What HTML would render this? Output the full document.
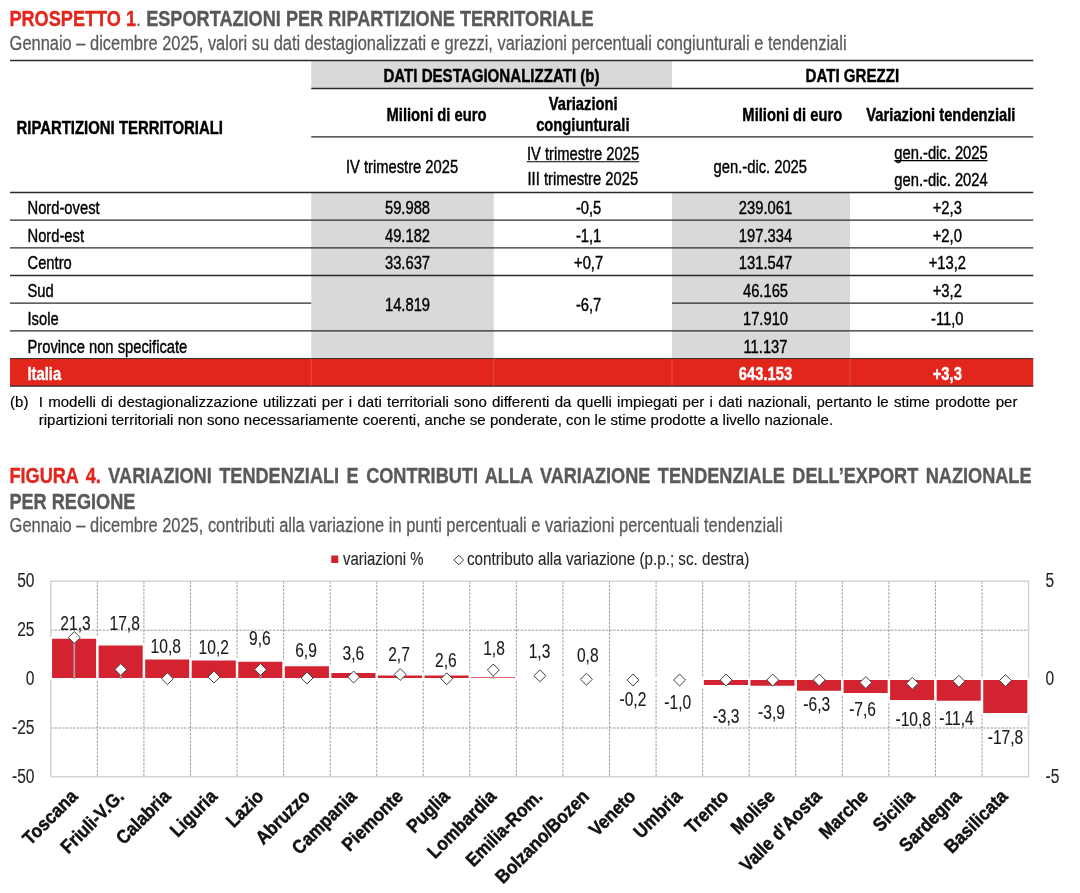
<!DOCTYPE html>
<html lang="it">
<head>
<meta charset="utf-8">
<title>Prospetto 1 - Esportazioni per ripartizione territoriale</title>
<style>
html,body{margin:0;padding:0;background:#fff;}
body{width:1080px;height:893px;overflow:hidden;}
svg{display:block;font-family:"Liberation Sans", sans-serif;will-change:transform;}
text{white-space:pre;}
</style>
</head>
<body>
<svg role="img" aria-label="Prospetto 1 e Figura 4" width="1080" height="893" viewBox="0 0 1080 893">
<rect width="1080" height="893" fill="#fff"/>
<g id="prospetto-title">
<text transform="translate(9.4 26.4) scale(0.8325 1)" font-size="21.8" font-weight="700" fill="#595959" stroke="#595959" stroke-width="0.35"><tspan fill="#E2261B" stroke="#E2261B">PROSPETTO 1</tspan><tspan font-weight="400" stroke="none">.</tspan> ESPORTAZIONI PER RIPARTIZIONE TERRITORIALE</text>
<text transform="translate(9.60 49.90) scale(0.826 1)" font-size="19.9" font-weight="400" text-anchor="start" fill="#595959" stroke="#595959" stroke-width="0.25">Gennaio – dicembre 2025, valori su dati destagionalizzati e grezzi, variazioni percentuali congiunturali e tendenziali</text>
</g>
<g id="prospetto-table">
<rect x="311.25" y="61.00" width="360.75" height="27.50" fill="#D9D9D9"/>
<rect x="311.25" y="193.00" width="182.50" height="165.46" fill="#D9D9D9"/>
<rect x="672.00" y="193.00" width="178.00" height="165.46" fill="#D9D9D9"/>
<rect x="10.00" y="358.46" width="1023.25" height="27.66" fill="#E2261B"/>
<line x1="10.00" y1="60.50" x2="1033.25" y2="60.50" stroke="#2b2b2b" stroke-width="1.35"/>
<line x1="311.25" y1="88.50" x2="1033.25" y2="88.50" stroke="#2b2b2b" stroke-width="1.35"/>
<line x1="311.25" y1="136.90" x2="1033.25" y2="136.90" stroke="#2b2b2b" stroke-width="1.35"/>
<line x1="10.00" y1="192.50" x2="1033.25" y2="192.50" stroke="#2b2b2b" stroke-width="1.35"/>
<line x1="10.00" y1="220.16" x2="1033.25" y2="220.16" stroke="#2b2b2b" stroke-width="1.35"/>
<line x1="10.00" y1="247.82" x2="1033.25" y2="247.82" stroke="#2b2b2b" stroke-width="1.35"/>
<line x1="10.00" y1="275.48" x2="1033.25" y2="275.48" stroke="#2b2b2b" stroke-width="1.35"/>
<line x1="10.00" y1="303.14" x2="311.25" y2="303.14" stroke="#2b2b2b" stroke-width="1.35"/>
<line x1="672.00" y1="303.14" x2="1033.25" y2="303.14" stroke="#2b2b2b" stroke-width="1.35"/>
<line x1="10.00" y1="330.80" x2="1033.25" y2="330.80" stroke="#2b2b2b" stroke-width="1.35"/>
<line x1="10.00" y1="386.12" x2="1033.25" y2="386.12" stroke="#2b2b2b" stroke-width="1.35"/>
<line x1="10.00" y1="358.56" x2="1033.25" y2="358.56" stroke="#3a3030" stroke-width="1"/>
<line x1="311.25" y1="358.96" x2="311.25" y2="385.62" stroke="#EC5A4F" stroke-width="0.8"/>
<line x1="493.75" y1="358.96" x2="493.75" y2="385.62" stroke="#EC5A4F" stroke-width="0.8"/>
<line x1="672.00" y1="358.96" x2="672.00" y2="385.62" stroke="#EC5A4F" stroke-width="0.8"/>
<line x1="850.00" y1="358.96" x2="850.00" y2="385.62" stroke="#EC5A4F" stroke-width="0.8"/>
<text transform="translate(16.50 133.75) scale(0.852 1)" font-size="17.5" font-weight="700" text-anchor="start" fill="#000" stroke="#000" stroke-width="0.4">RIPARTIZIONI TERRITORIALI</text>
<text transform="translate(491.50 82.10) scale(0.863 1)" font-size="17.5" font-weight="700" text-anchor="middle" fill="#000" stroke="#000" stroke-width="0.4">DATI DESTAGIONALIZZATI (b)</text>
<text transform="translate(852.30 82.10) scale(0.863 1)" font-size="17.5" font-weight="700" text-anchor="middle" fill="#000" stroke="#000" stroke-width="0.4">DATI GREZZI</text>
<text transform="translate(436.50 120.80) scale(0.843 1)" font-size="17.5" font-weight="700" text-anchor="middle" fill="#000" stroke="#000" stroke-width="0.4">Milioni di euro</text>
<text transform="translate(583.20 110.00) scale(0.843 1)" font-size="17.5" font-weight="700" text-anchor="middle" fill="#000" stroke="#000" stroke-width="0.4">Variazioni</text>
<text transform="translate(582.80 130.80) scale(0.843 1)" font-size="17.5" font-weight="700" text-anchor="middle" fill="#000" stroke="#000" stroke-width="0.4">congiunturali</text>
<text transform="translate(792.30 120.80) scale(0.843 1)" font-size="17.5" font-weight="700" text-anchor="middle" fill="#000" stroke="#000" stroke-width="0.4">Milioni di euro</text>
<text transform="translate(940.90 120.80) scale(0.843 1)" font-size="17.5" font-weight="700" text-anchor="middle" fill="#000" stroke="#000" stroke-width="0.4">Variazioni tendenziali</text>
<text transform="translate(402.00 172.50) scale(0.843 1)" font-size="17.5" font-weight="400" text-anchor="middle" fill="#000" stroke="#000" stroke-width="0.4">IV trimestre 2025</text>
<text transform="translate(583.00 160.00) scale(0.843 1)" font-size="17.5" font-weight="400" text-anchor="middle" fill="#000" stroke="#000" stroke-width="0.4">IV trimestre 2025</text>
<line x1="526.75" y1="161.80" x2="639.25" y2="161.80" stroke="#000" stroke-width="1.1"/>
<text transform="translate(582.80 184.60) scale(0.843 1)" font-size="17.5" font-weight="400" text-anchor="middle" fill="#000" stroke="#000" stroke-width="0.4">III trimestre 2025</text>
<text transform="translate(760.30 172.50) scale(0.843 1)" font-size="17.5" font-weight="400" text-anchor="middle" fill="#000" stroke="#000" stroke-width="0.4">gen.-dic. 2025</text>
<text transform="translate(941.00 158.60) scale(0.843 1)" font-size="17.5" font-weight="400" text-anchor="middle" fill="#000" stroke="#000" stroke-width="0.4">gen.-dic. 2025</text>
<line x1="894.25" y1="160.60" x2="987.50" y2="160.60" stroke="#000" stroke-width="1.1"/>
<text transform="translate(941.00 185.60) scale(0.843 1)" font-size="17.5" font-weight="400" text-anchor="middle" fill="#000" stroke="#000" stroke-width="0.4">gen.-dic. 2024</text>
<text transform="translate(27.50 213.85) scale(0.843 1)" font-size="17.5" font-weight="400" text-anchor="start" fill="#000" stroke="#000" stroke-width="0.4">Nord-ovest</text>
<text transform="translate(407.50 213.85) scale(0.843 1)" font-size="17.5" font-weight="400" text-anchor="middle" fill="#000" stroke="#000" stroke-width="0.4">59.988</text>
<text transform="translate(588.60 213.85) scale(0.843 1)" font-size="17.5" font-weight="400" text-anchor="middle" fill="#000" stroke="#000" stroke-width="0.4">-0,5</text>
<text transform="translate(765.50 213.85) scale(0.843 1)" font-size="17.5" font-weight="400" text-anchor="middle" fill="#000" stroke="#000" stroke-width="0.4">239.061</text>
<text transform="translate(947.30 213.85) scale(0.843 1)" font-size="17.5" font-weight="400" text-anchor="middle" fill="#000" stroke="#000" stroke-width="0.4">+2,3</text>
<text transform="translate(27.50 241.60) scale(0.843 1)" font-size="17.5" font-weight="400" text-anchor="start" fill="#000" stroke="#000" stroke-width="0.4">Nord-est</text>
<text transform="translate(407.50 241.60) scale(0.843 1)" font-size="17.5" font-weight="400" text-anchor="middle" fill="#000" stroke="#000" stroke-width="0.4">49.182</text>
<text transform="translate(588.60 241.60) scale(0.843 1)" font-size="17.5" font-weight="400" text-anchor="middle" fill="#000" stroke="#000" stroke-width="0.4">-1,1</text>
<text transform="translate(765.50 241.60) scale(0.843 1)" font-size="17.5" font-weight="400" text-anchor="middle" fill="#000" stroke="#000" stroke-width="0.4">197.334</text>
<text transform="translate(947.30 241.60) scale(0.843 1)" font-size="17.5" font-weight="400" text-anchor="middle" fill="#000" stroke="#000" stroke-width="0.4">+2,0</text>
<text transform="translate(27.50 269.35) scale(0.843 1)" font-size="17.5" font-weight="400" text-anchor="start" fill="#000" stroke="#000" stroke-width="0.4">Centro</text>
<text transform="translate(407.50 269.35) scale(0.843 1)" font-size="17.5" font-weight="400" text-anchor="middle" fill="#000" stroke="#000" stroke-width="0.4">33.637</text>
<text transform="translate(588.60 269.35) scale(0.843 1)" font-size="17.5" font-weight="400" text-anchor="middle" fill="#000" stroke="#000" stroke-width="0.4">+0,7</text>
<text transform="translate(765.50 269.35) scale(0.843 1)" font-size="17.5" font-weight="400" text-anchor="middle" fill="#000" stroke="#000" stroke-width="0.4">131.547</text>
<text transform="translate(947.30 269.35) scale(0.843 1)" font-size="17.5" font-weight="400" text-anchor="middle" fill="#000" stroke="#000" stroke-width="0.4">+13,2</text>
<text transform="translate(27.50 297.10) scale(0.843 1)" font-size="17.5" font-weight="400" text-anchor="start" fill="#000" stroke="#000" stroke-width="0.4">Sud</text>
<text transform="translate(765.50 297.10) scale(0.843 1)" font-size="17.5" font-weight="400" text-anchor="middle" fill="#000" stroke="#000" stroke-width="0.4">46.165</text>
<text transform="translate(947.30 297.10) scale(0.843 1)" font-size="17.5" font-weight="400" text-anchor="middle" fill="#000" stroke="#000" stroke-width="0.4">+3,2</text>
<text transform="translate(27.50 324.85) scale(0.843 1)" font-size="17.5" font-weight="400" text-anchor="start" fill="#000" stroke="#000" stroke-width="0.4">Isole</text>
<text transform="translate(765.50 324.85) scale(0.843 1)" font-size="17.5" font-weight="400" text-anchor="middle" fill="#000" stroke="#000" stroke-width="0.4">17.910</text>
<text transform="translate(947.30 324.85) scale(0.843 1)" font-size="17.5" font-weight="400" text-anchor="middle" fill="#000" stroke="#000" stroke-width="0.4">-11,0</text>
<text transform="translate(27.50 352.60) scale(0.843 1)" font-size="17.5" font-weight="400" text-anchor="start" fill="#000" stroke="#000" stroke-width="0.4">Province non specificate</text>
<text transform="translate(765.50 352.60) scale(0.843 1)" font-size="17.5" font-weight="400" text-anchor="middle" fill="#000" stroke="#000" stroke-width="0.4">11.137</text>
<text transform="translate(27.50 380.35) scale(0.843 1)" font-size="17.5" font-weight="700" text-anchor="start" fill="#fff" stroke="#fff" stroke-width="0.4">Italia</text>
<text transform="translate(765.50 380.35) scale(0.843 1)" font-size="17.5" font-weight="700" text-anchor="middle" fill="#fff" stroke="#fff" stroke-width="0.4">643.153</text>
<text transform="translate(947.30 380.35) scale(0.843 1)" font-size="17.5" font-weight="700" text-anchor="middle" fill="#fff" stroke="#fff" stroke-width="0.4">+3,3</text>
<text transform="translate(407.50 311.30) scale(0.843 1)" font-size="17.5" font-weight="400" text-anchor="middle" fill="#000" stroke="#000" stroke-width="0.4">14.819</text>
<text transform="translate(588.60 311.30) scale(0.843 1)" font-size="17.5" font-weight="400" text-anchor="middle" fill="#000" stroke="#000" stroke-width="0.4">-6,7</text>
</g>
<g id="footnote">
<text transform="translate(10.00 407.00) scale(1.092 1)" font-size="13.8" font-weight="400" text-anchor="start" fill="#000" stroke="#000" stroke-width="0.15">(b)</text>
<text transform="translate(38.75 407) scale(1.092 1)" font-size="13.8" word-spacing="0.96" stroke="#000" stroke-width="0.15">I modelli di destagionalizzazione utilizzati per i dati territoriali sono differenti da quelli impiegati per i dati nazionali, pertanto le stime prodotte per</text>
<text transform="translate(38.75 424.50) scale(1.092 1)" font-size="13.8" font-weight="400" text-anchor="start" fill="#000" stroke="#000" stroke-width="0.15">ripartizioni territoriali non sono necessariamente coerenti, anche se ponderate, con le stime prodotte a livello nazionale.</text>
</g>
<g id="figura-title">
<text transform="translate(9.4 483.3) scale(0.8325 1)" font-size="21.8" font-weight="700" fill="#595959" stroke="#595959" stroke-width="0.35" word-spacing="2.9"><tspan fill="#E2261B" stroke="#E2261B">FIGURA 4.</tspan> VARIAZIONI TENDENZIALI E CONTRIBUTI ALLA VARIAZIONE TENDENZIALE DELL’EXPORT NAZIONALE</text>
<text transform="translate(9.40 509.00) scale(0.8325 1)" font-size="21.8" font-weight="700" text-anchor="start" fill="#595959" stroke="#595959" stroke-width="0.35">PER REGIONE</text>
<text transform="translate(9.60 532.10) scale(0.826 1)" font-size="19.9" font-weight="400" text-anchor="start" fill="#595959" stroke="#595959" stroke-width="0.25">Gennaio – dicembre 2025, contributi alla variazione in punti percentuali e variazioni percentuali tendenziali</text>
</g>
<g id="chart">
<line x1="97.36" y1="581.25" x2="97.36" y2="776.75" stroke="#808080" stroke-width="0.8" stroke-dasharray="2.4 1.3"/>
<line x1="143.92" y1="581.25" x2="143.92" y2="776.75" stroke="#808080" stroke-width="0.8" stroke-dasharray="2.4 1.3"/>
<line x1="190.48" y1="581.25" x2="190.48" y2="776.75" stroke="#808080" stroke-width="0.8" stroke-dasharray="2.4 1.3"/>
<line x1="237.04" y1="581.25" x2="237.04" y2="776.75" stroke="#808080" stroke-width="0.8" stroke-dasharray="2.4 1.3"/>
<line x1="283.60" y1="581.25" x2="283.60" y2="776.75" stroke="#808080" stroke-width="0.8" stroke-dasharray="2.4 1.3"/>
<line x1="330.16" y1="581.25" x2="330.16" y2="776.75" stroke="#808080" stroke-width="0.8" stroke-dasharray="2.4 1.3"/>
<line x1="376.72" y1="581.25" x2="376.72" y2="776.75" stroke="#808080" stroke-width="0.8" stroke-dasharray="2.4 1.3"/>
<line x1="423.28" y1="581.25" x2="423.28" y2="776.75" stroke="#808080" stroke-width="0.8" stroke-dasharray="2.4 1.3"/>
<line x1="469.84" y1="581.25" x2="469.84" y2="776.75" stroke="#808080" stroke-width="0.8" stroke-dasharray="2.4 1.3"/>
<line x1="516.40" y1="581.25" x2="516.40" y2="776.75" stroke="#808080" stroke-width="0.8" stroke-dasharray="2.4 1.3"/>
<line x1="562.96" y1="581.25" x2="562.96" y2="776.75" stroke="#808080" stroke-width="0.8" stroke-dasharray="2.4 1.3"/>
<line x1="609.52" y1="581.25" x2="609.52" y2="776.75" stroke="#808080" stroke-width="0.8" stroke-dasharray="2.4 1.3"/>
<line x1="656.08" y1="581.25" x2="656.08" y2="776.75" stroke="#808080" stroke-width="0.8" stroke-dasharray="2.4 1.3"/>
<line x1="702.64" y1="581.25" x2="702.64" y2="776.75" stroke="#808080" stroke-width="0.8" stroke-dasharray="2.4 1.3"/>
<line x1="749.20" y1="581.25" x2="749.20" y2="776.75" stroke="#808080" stroke-width="0.8" stroke-dasharray="2.4 1.3"/>
<line x1="795.76" y1="581.25" x2="795.76" y2="776.75" stroke="#808080" stroke-width="0.8" stroke-dasharray="2.4 1.3"/>
<line x1="842.32" y1="581.25" x2="842.32" y2="776.75" stroke="#808080" stroke-width="0.8" stroke-dasharray="2.4 1.3"/>
<line x1="888.88" y1="581.25" x2="888.88" y2="776.75" stroke="#808080" stroke-width="0.8" stroke-dasharray="2.4 1.3"/>
<line x1="935.44" y1="581.25" x2="935.44" y2="776.75" stroke="#808080" stroke-width="0.8" stroke-dasharray="2.4 1.3"/>
<line x1="982.00" y1="581.25" x2="982.00" y2="776.75" stroke="#808080" stroke-width="0.8" stroke-dasharray="2.4 1.3"/>
<line x1="50.80" y1="630.20" x2="1028.56" y2="630.20" stroke="#808080" stroke-width="0.8" stroke-dasharray="2.4 1.3"/>
<line x1="50.80" y1="728.00" x2="1028.56" y2="728.00" stroke="#808080" stroke-width="0.8" stroke-dasharray="2.4 1.3"/>
<rect x="50.8" y="581.25" width="977.76" height="195.5" fill="none" stroke="#d4d4d4" stroke-width="1.5"/>
<rect x="51.03" y="637.75" width="46.1" height="41.25" fill="#D32331" stroke="#fff" stroke-width="2"/>
<rect x="97.59" y="644.50" width="46.1" height="34.50" fill="#D32331" stroke="#fff" stroke-width="2"/>
<rect x="144.15" y="658.50" width="46.1" height="20.50" fill="#D32331" stroke="#fff" stroke-width="2"/>
<rect x="190.71" y="659.50" width="46.1" height="19.50" fill="#D32331" stroke="#fff" stroke-width="2"/>
<rect x="237.27" y="660.75" width="46.1" height="18.25" fill="#D32331" stroke="#fff" stroke-width="2"/>
<rect x="283.83" y="665.25" width="46.1" height="13.75" fill="#D32331" stroke="#fff" stroke-width="2"/>
<rect x="330.39" y="672.00" width="46.1" height="7.00" fill="#D32331" stroke="#fff" stroke-width="2"/>
<rect x="376.95" y="674.50" width="46.1" height="4.50" fill="#D32331" stroke="#fff" stroke-width="2"/>
<rect x="423.51" y="674.50" width="46.1" height="4.50" fill="#D32331" stroke="#fff" stroke-width="2"/>
<rect x="470.07" y="676.20" width="46.1" height="2.70" fill="#D32331" stroke="#fff" stroke-width="2"/>
<rect x="516.38" y="677.60" width="46.60" height="2.80" fill="#fff"/>
<rect x="562.94" y="677.60" width="46.60" height="2.80" fill="#fff"/>
<rect x="609.50" y="677.60" width="46.60" height="2.80" fill="#fff"/>
<rect x="656.06" y="677.60" width="46.60" height="2.80" fill="#fff"/>
<rect x="702.87" y="679.00" width="46.1" height="7.00" fill="#D32331" stroke="#fff" stroke-width="2"/>
<rect x="749.43" y="679.00" width="46.1" height="7.75" fill="#D32331" stroke="#fff" stroke-width="2"/>
<rect x="795.99" y="679.00" width="46.1" height="12.75" fill="#D32331" stroke="#fff" stroke-width="2"/>
<rect x="842.55" y="679.00" width="46.1" height="15.00" fill="#D32331" stroke="#fff" stroke-width="2"/>
<rect x="889.11" y="679.00" width="46.1" height="22.00" fill="#D32331" stroke="#fff" stroke-width="2"/>
<rect x="935.67" y="679.00" width="46.1" height="22.75" fill="#D32331" stroke="#fff" stroke-width="2"/>
<rect x="982.23" y="679.00" width="46.1" height="35.00" fill="#D32331" stroke="#fff" stroke-width="2"/>
<text transform="translate(75.50 630.00) scale(0.8 1)" font-size="19.5" font-weight="400" text-anchor="middle" fill="#1a1a1a" stroke="#1a1a1a" stroke-width="0.12">21,3</text>
<text transform="translate(124.70 630.00) scale(0.8 1)" font-size="19.5" font-weight="400" text-anchor="middle" fill="#1a1a1a" stroke="#1a1a1a" stroke-width="0.12">17,8</text>
<text transform="translate(165.75 652.80) scale(0.8 1)" font-size="19.5" font-weight="400" text-anchor="middle" fill="#1a1a1a" stroke="#1a1a1a" stroke-width="0.12">10,8</text>
<text transform="translate(213.75 653.75) scale(0.8 1)" font-size="19.5" font-weight="400" text-anchor="middle" fill="#1a1a1a" stroke="#1a1a1a" stroke-width="0.12">10,2</text>
<text transform="translate(259.90 645.00) scale(0.8 1)" font-size="19.5" font-weight="400" text-anchor="middle" fill="#1a1a1a" stroke="#1a1a1a" stroke-width="0.12">9,6</text>
<text transform="translate(306.00 656.50) scale(0.8 1)" font-size="19.5" font-weight="400" text-anchor="middle" fill="#1a1a1a" stroke="#1a1a1a" stroke-width="0.12">6,9</text>
<text transform="translate(353.40 660.00) scale(0.8 1)" font-size="19.5" font-weight="400" text-anchor="middle" fill="#1a1a1a" stroke="#1a1a1a" stroke-width="0.12">3,6</text>
<text transform="translate(399.00 661.25) scale(0.8 1)" font-size="19.5" font-weight="400" text-anchor="middle" fill="#1a1a1a" stroke="#1a1a1a" stroke-width="0.12">2,7</text>
<text transform="translate(445.90 666.75) scale(0.8 1)" font-size="19.5" font-weight="400" text-anchor="middle" fill="#1a1a1a" stroke="#1a1a1a" stroke-width="0.12">2,6</text>
<text transform="translate(494.00 655.00) scale(0.8 1)" font-size="19.5" font-weight="400" text-anchor="middle" fill="#1a1a1a" stroke="#1a1a1a" stroke-width="0.12">1,8</text>
<text transform="translate(539.50 657.50) scale(0.8 1)" font-size="19.5" font-weight="400" text-anchor="middle" fill="#1a1a1a" stroke="#1a1a1a" stroke-width="0.12">1,3</text>
<text transform="translate(587.75 662.40) scale(0.8 1)" font-size="19.5" font-weight="400" text-anchor="middle" fill="#1a1a1a" stroke="#1a1a1a" stroke-width="0.12">0,8</text>
<text transform="translate(632.90 705.75) scale(0.8 1)" font-size="19.5" font-weight="400" text-anchor="middle" fill="#1a1a1a" stroke="#1a1a1a" stroke-width="0.12">-0,2</text>
<text transform="translate(677.75 709.25) scale(0.8 1)" font-size="19.5" font-weight="400" text-anchor="middle" fill="#1a1a1a" stroke="#1a1a1a" stroke-width="0.12">-1,0</text>
<text transform="translate(726.10 722.50) scale(0.8 1)" font-size="19.5" font-weight="400" text-anchor="middle" fill="#1a1a1a" stroke="#1a1a1a" stroke-width="0.12">-3,3</text>
<text transform="translate(771.50 719.25) scale(0.8 1)" font-size="19.5" font-weight="400" text-anchor="middle" fill="#1a1a1a" stroke="#1a1a1a" stroke-width="0.12">-3,9</text>
<text transform="translate(816.75 711.00) scale(0.8 1)" font-size="19.5" font-weight="400" text-anchor="middle" fill="#1a1a1a" stroke="#1a1a1a" stroke-width="0.12">-6,3</text>
<text transform="translate(862.60 715.50) scale(0.8 1)" font-size="19.5" font-weight="400" text-anchor="middle" fill="#1a1a1a" stroke="#1a1a1a" stroke-width="0.12">-7,6</text>
<text transform="translate(913.25 725.50) scale(0.8 1)" font-size="19.5" font-weight="400" text-anchor="middle" fill="#1a1a1a" stroke="#1a1a1a" stroke-width="0.12">-10,8</text>
<text transform="translate(956.50 725.00) scale(0.8 1)" font-size="19.5" font-weight="400" text-anchor="middle" fill="#1a1a1a" stroke="#1a1a1a" stroke-width="0.12">-11,4</text>
<text transform="translate(1005.50 743.75) scale(0.8 1)" font-size="19.5" font-weight="400" text-anchor="middle" fill="#1a1a1a" stroke="#1a1a1a" stroke-width="0.12">-17,8</text>
<line x1="74.28" y1="637.50" x2="74.28" y2="679.00" stroke="#a6a6a6" stroke-width="1.7"/>
<path d="M74.28 631.55 L80.23 637.50 L74.28 643.45 L68.33 637.50 Z" fill="#fff" stroke="#404040" stroke-width="1"/>
<text transform="translate(78.70 797.50) rotate(-45) scale(0.905 1)" font-size="19" font-weight="700" text-anchor="end" fill="#111" stroke="#111" stroke-width="0.45">Toscana</text>
<line x1="120.84" y1="669.50" x2="120.84" y2="679.00" stroke="#a6a6a6" stroke-width="1.7"/>
<path d="M120.84 663.55 L126.79 669.50 L120.84 675.45 L114.89 669.50 Z" fill="#fff" stroke="#404040" stroke-width="1"/>
<text transform="translate(125.20 797.50) rotate(-45) scale(0.905 1)" font-size="19" font-weight="700" text-anchor="end" fill="#111" stroke="#111" stroke-width="0.45">Friuli-V.G.</text>
<path d="M167.40 672.80 L173.35 678.75 L167.40 684.70 L161.45 678.75 Z" fill="#fff" stroke="#404040" stroke-width="1"/>
<text transform="translate(171.70 797.50) rotate(-45) scale(0.905 1)" font-size="19" font-weight="700" text-anchor="end" fill="#111" stroke="#111" stroke-width="0.45">Calabria</text>
<path d="M213.96 671.05 L219.91 677.00 L213.96 682.95 L208.01 677.00 Z" fill="#fff" stroke="#404040" stroke-width="1"/>
<text transform="translate(218.20 797.50) rotate(-45) scale(0.905 1)" font-size="19" font-weight="700" text-anchor="end" fill="#111" stroke="#111" stroke-width="0.45">Liguria</text>
<line x1="260.52" y1="669.50" x2="260.52" y2="679.00" stroke="#a6a6a6" stroke-width="1.7"/>
<path d="M260.52 663.55 L266.47 669.50 L260.52 675.45 L254.57 669.50 Z" fill="#fff" stroke="#404040" stroke-width="1"/>
<text transform="translate(264.70 797.50) rotate(-45) scale(0.905 1)" font-size="19" font-weight="700" text-anchor="end" fill="#111" stroke="#111" stroke-width="0.45">Lazio</text>
<path d="M307.08 672.05 L313.03 678.00 L307.08 683.95 L301.13 678.00 Z" fill="#fff" stroke="#404040" stroke-width="1"/>
<text transform="translate(311.20 797.50) rotate(-45) scale(0.905 1)" font-size="19" font-weight="700" text-anchor="end" fill="#111" stroke="#111" stroke-width="0.45">Abruzzo</text>
<path d="M353.64 671.05 L359.59 677.00 L353.64 682.95 L347.69 677.00 Z" fill="#fff" stroke="#404040" stroke-width="1"/>
<text transform="translate(357.70 797.50) rotate(-45) scale(0.905 1)" font-size="19" font-weight="700" text-anchor="end" fill="#111" stroke="#111" stroke-width="0.45">Campania</text>
<line x1="400.20" y1="674.50" x2="400.20" y2="679.00" stroke="#a6a6a6" stroke-width="1.7"/>
<path d="M400.20 668.55 L406.15 674.50 L400.20 680.45 L394.25 674.50 Z" fill="#fff" stroke="#404040" stroke-width="1"/>
<text transform="translate(404.20 797.50) rotate(-45) scale(0.905 1)" font-size="19" font-weight="700" text-anchor="end" fill="#111" stroke="#111" stroke-width="0.45">Piemonte</text>
<path d="M446.76 672.80 L452.71 678.75 L446.76 684.70 L440.81 678.75 Z" fill="#fff" stroke="#404040" stroke-width="1"/>
<text transform="translate(450.70 797.50) rotate(-45) scale(0.905 1)" font-size="19" font-weight="700" text-anchor="end" fill="#111" stroke="#111" stroke-width="0.45">Puglia</text>
<line x1="493.32" y1="670.00" x2="493.32" y2="679.00" stroke="#a6a6a6" stroke-width="1.7"/>
<path d="M493.32 664.05 L499.27 670.00 L493.32 675.95 L487.37 670.00 Z" fill="#fff" stroke="#404040" stroke-width="1"/>
<text transform="translate(497.20 797.50) rotate(-45) scale(0.905 1)" font-size="19" font-weight="700" text-anchor="end" fill="#111" stroke="#111" stroke-width="0.45">Lombardia</text>
<line x1="539.88" y1="675.75" x2="539.88" y2="679.00" stroke="#a6a6a6" stroke-width="1.7"/>
<path d="M539.88 669.80 L545.83 675.75 L539.88 681.70 L533.93 675.75 Z" fill="#fff" stroke="#404040" stroke-width="1"/>
<text transform="translate(543.70 797.50) rotate(-45) scale(0.905 1)" font-size="19" font-weight="700" text-anchor="end" fill="#111" stroke="#111" stroke-width="0.45">Emilia-Rom.</text>
<path d="M586.44 673.30 L592.39 679.25 L586.44 685.20 L580.49 679.25 Z" fill="#fff" stroke="#404040" stroke-width="1"/>
<text transform="translate(590.20 797.50) rotate(-45) scale(0.905 1)" font-size="19" font-weight="700" text-anchor="end" fill="#111" stroke="#111" stroke-width="0.45">Bolzano/Bozen</text>
<path d="M633.00 674.05 L638.95 680.00 L633.00 685.95 L627.05 680.00 Z" fill="#fff" stroke="#404040" stroke-width="1"/>
<text transform="translate(636.70 797.50) rotate(-45) scale(0.905 1)" font-size="19" font-weight="700" text-anchor="end" fill="#111" stroke="#111" stroke-width="0.45">Veneto</text>
<path d="M679.56 674.05 L685.51 680.00 L679.56 685.95 L673.61 680.00 Z" fill="#fff" stroke="#404040" stroke-width="1"/>
<text transform="translate(683.20 797.50) rotate(-45) scale(0.905 1)" font-size="19" font-weight="700" text-anchor="end" fill="#111" stroke="#111" stroke-width="0.45">Umbria</text>
<path d="M726.12 674.05 L732.07 680.00 L726.12 685.95 L720.17 680.00 Z" fill="#fff" stroke="#404040" stroke-width="1"/>
<text transform="translate(729.70 797.50) rotate(-45) scale(0.905 1)" font-size="19" font-weight="700" text-anchor="end" fill="#111" stroke="#111" stroke-width="0.45">Trento</text>
<path d="M772.68 674.05 L778.63 680.00 L772.68 685.95 L766.73 680.00 Z" fill="#fff" stroke="#404040" stroke-width="1"/>
<text transform="translate(776.20 797.50) rotate(-45) scale(0.905 1)" font-size="19" font-weight="700" text-anchor="end" fill="#111" stroke="#111" stroke-width="0.45">Molise</text>
<path d="M819.24 674.05 L825.19 680.00 L819.24 685.95 L813.29 680.00 Z" fill="#fff" stroke="#404040" stroke-width="1"/>
<text transform="translate(822.70 797.50) rotate(-45) scale(0.905 1)" font-size="19" font-weight="700" text-anchor="end" fill="#111" stroke="#111" stroke-width="0.45">Valle d&#x27;Aosta</text>
<line x1="865.80" y1="679.00" x2="865.80" y2="682.50" stroke="#a6a6a6" stroke-width="1.7"/>
<path d="M865.80 676.55 L871.75 682.50 L865.80 688.45 L859.85 682.50 Z" fill="#fff" stroke="#404040" stroke-width="1"/>
<text transform="translate(869.20 797.50) rotate(-45) scale(0.905 1)" font-size="19" font-weight="700" text-anchor="end" fill="#111" stroke="#111" stroke-width="0.45">Marche</text>
<line x1="912.36" y1="679.00" x2="912.36" y2="683.25" stroke="#a6a6a6" stroke-width="1.7"/>
<path d="M912.36 677.30 L918.31 683.25 L912.36 689.20 L906.41 683.25 Z" fill="#fff" stroke="#404040" stroke-width="1"/>
<text transform="translate(915.70 797.50) rotate(-45) scale(0.905 1)" font-size="19" font-weight="700" text-anchor="end" fill="#111" stroke="#111" stroke-width="0.45">Sicilia</text>
<path d="M958.92 675.30 L964.87 681.25 L958.92 687.20 L952.97 681.25 Z" fill="#fff" stroke="#404040" stroke-width="1"/>
<text transform="translate(962.20 797.50) rotate(-45) scale(0.905 1)" font-size="19" font-weight="700" text-anchor="end" fill="#111" stroke="#111" stroke-width="0.45">Sardegna</text>
<path d="M1005.48 674.55 L1011.43 680.50 L1005.48 686.45 L999.53 680.50 Z" fill="#fff" stroke="#404040" stroke-width="1"/>
<text transform="translate(1008.70 797.50) rotate(-45) scale(0.905 1)" font-size="19" font-weight="700" text-anchor="end" fill="#111" stroke="#111" stroke-width="0.45">Basilicata</text>
<text transform="translate(34.50 586.80) scale(0.8 1)" font-size="19.5" font-weight="400" text-anchor="end" fill="#262626" stroke="#262626" stroke-width="0.12">50</text>
<text transform="translate(34.50 635.50) scale(0.8 1)" font-size="19.5" font-weight="400" text-anchor="end" fill="#262626" stroke="#262626" stroke-width="0.12">25</text>
<text transform="translate(34.50 685.10) scale(0.8 1)" font-size="19.5" font-weight="400" text-anchor="end" fill="#262626" stroke="#262626" stroke-width="0.12">0</text>
<text transform="translate(34.50 734.30) scale(0.8 1)" font-size="19.5" font-weight="400" text-anchor="end" fill="#262626" stroke="#262626" stroke-width="0.12">-25</text>
<text transform="translate(34.50 783.40) scale(0.8 1)" font-size="19.5" font-weight="400" text-anchor="end" fill="#262626" stroke="#262626" stroke-width="0.12">-50</text>
<text transform="translate(1045.50 586.80) scale(0.8 1)" font-size="19.5" font-weight="400" text-anchor="start" fill="#262626" stroke="#262626" stroke-width="0.12">5</text>
<text transform="translate(1045.50 685.10) scale(0.8 1)" font-size="19.5" font-weight="400" text-anchor="start" fill="#262626" stroke="#262626" stroke-width="0.12">0</text>
<text transform="translate(1045.50 783.40) scale(0.8 1)" font-size="19.5" font-weight="400" text-anchor="start" fill="#262626" stroke="#262626" stroke-width="0.12">-5</text>
<rect x="331.25" y="555.50" width="7.00" height="7.50" fill="#D32331"/>
<text transform="translate(343.00 565.20) scale(0.785 1)" font-size="19" font-weight="400" text-anchor="start" fill="#262626" stroke="#262626" stroke-width="0.12">variazioni %</text>
<path d="M458.75 555.2 L463.55 560 L458.75 564.8 L453.95 560 Z" fill="#fff" stroke="#404040" stroke-width="1"/>
<text transform="translate(467.00 565.20) scale(0.801 1)" font-size="19" font-weight="400" text-anchor="start" fill="#262626" stroke="#262626" stroke-width="0.12">contributo alla variazione (p.p.; sc. destra)</text>
</g>
</svg>
</body>
</html>
